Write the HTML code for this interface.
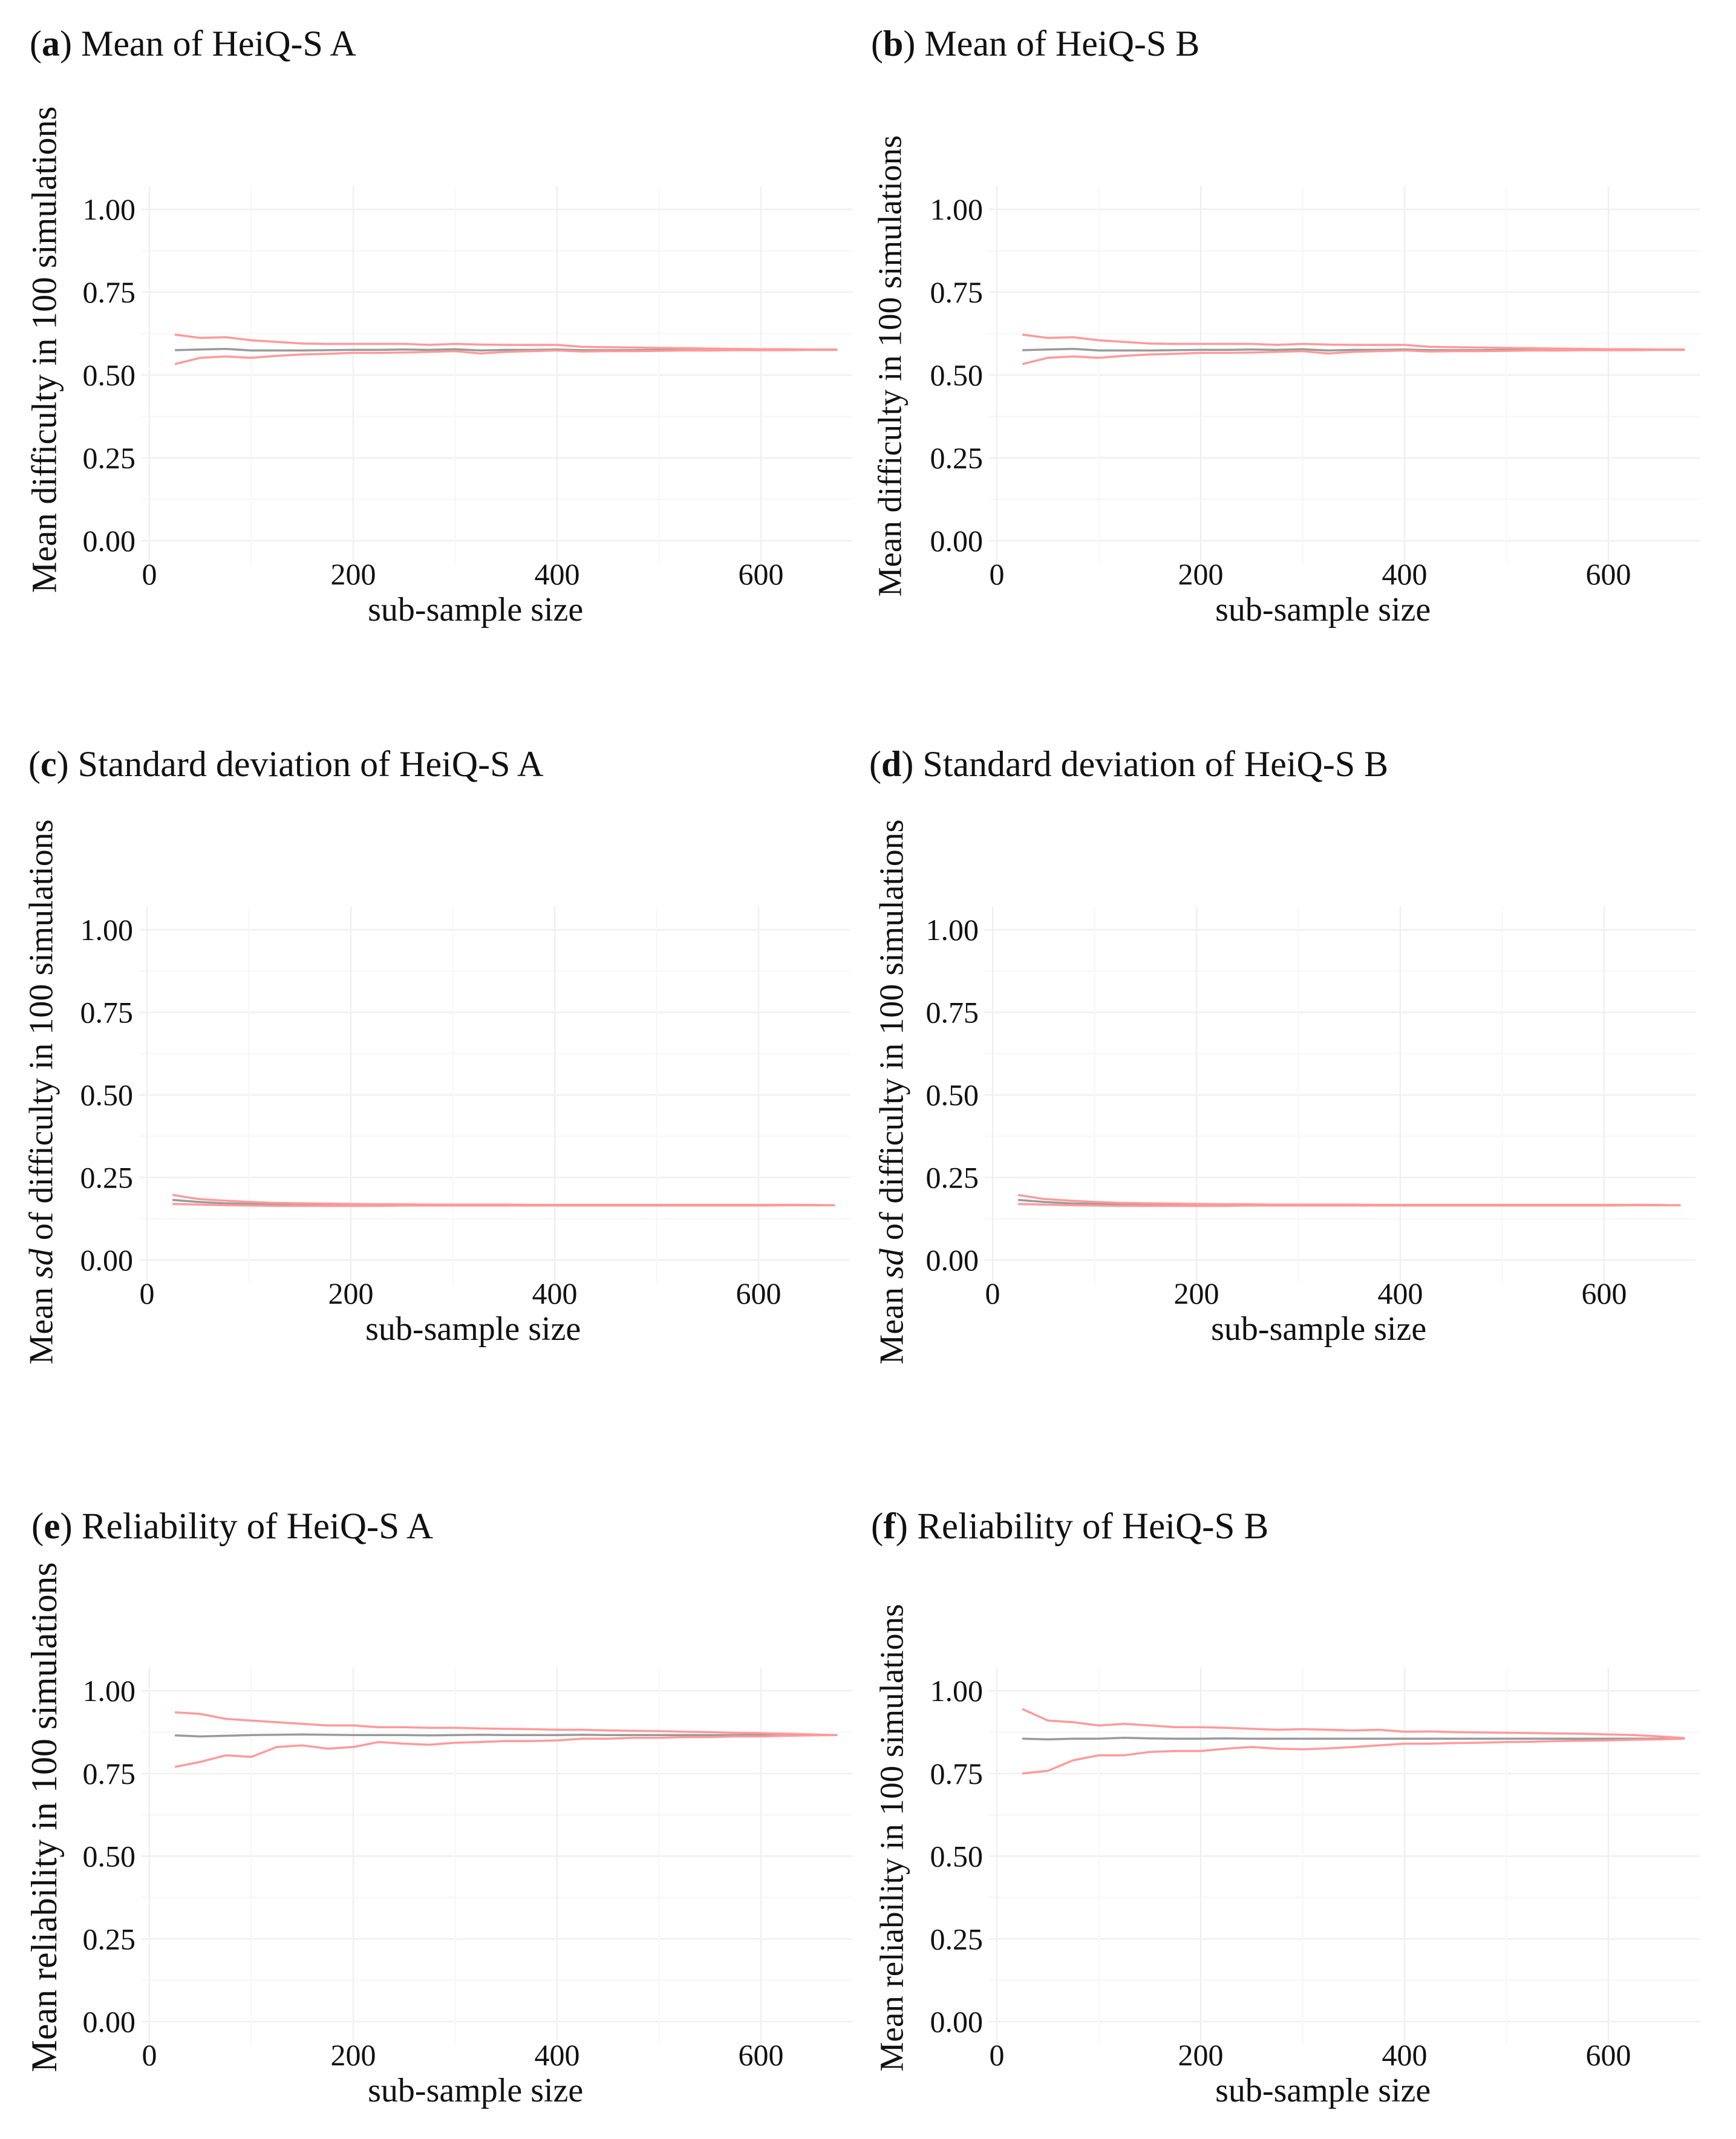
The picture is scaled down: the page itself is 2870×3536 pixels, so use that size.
<!DOCTYPE html>
<html><head><meta charset="utf-8"><style>
html,body{margin:0;padding:0;background:#fff}
svg{display:block}
text{font-family:"Liberation Serif",serif;fill:#111}
</style></head><body>
<svg id="fig" width="2870" height="3536" viewBox="0 0 2870 3536" xmlns="http://www.w3.org/2000/svg"></svg>
<script>
const sampleSizes=[25,50,75,100,125,150,175,200,225,250,275,300,325,350,375,400,425,450,475,500,525,550,575,600,625,650,675];
const yTickLabels=["0.00","0.25","0.50","0.75","1.00"];
const yTickValues=[0,0.25,0.5,0.75,1];
const xTickValues=[0,200,400,600];
const meanA_gray=[0.575,0.577,0.579,0.574,0.574,0.574,0.575,0.576,0.576,0.577,0.576,0.578,0.574,0.576,0.576,0.577,0.575,0.575,0.575,0.576,0.576,0.576,0.576,0.576,0.576,0.576,0.576];
const meanA_up=[0.622,0.612,0.614,0.605,0.6,0.595,0.594,0.594,0.594,0.594,0.591,0.594,0.592,0.591,0.591,0.591,0.585,0.584,0.583,0.582,0.581,0.58,0.579,0.578,0.578,0.577,0.577];
const meanA_lo=[0.533,0.552,0.556,0.552,0.558,0.562,0.564,0.567,0.567,0.568,0.57,0.572,0.565,0.57,0.572,0.574,0.571,0.572,0.572,0.573,0.574,0.574,0.575,0.575,0.575,0.576,0.576];
const sdA_gray=[0.182,0.176,0.172,0.17,0.168,0.168,0.167,0.167,0.166,0.166,0.166,0.166,0.166,0.166,0.166,0.166,0.166,0.166,0.166,0.166,0.166,0.166,0.166,0.166,0.166,0.166,0.166];
const sdA_up=[0.197,0.185,0.18,0.176,0.173,0.172,0.171,0.17,0.169,0.169,0.168,0.168,0.168,0.168,0.167,0.167,0.167,0.167,0.167,0.167,0.167,0.167,0.167,0.167,0.167,0.167,0.166];
const sdA_lo=[0.17,0.168,0.166,0.165,0.164,0.164,0.164,0.164,0.164,0.165,0.165,0.165,0.165,0.165,0.165,0.165,0.165,0.165,0.165,0.165,0.165,0.165,0.165,0.165,0.166,0.166,0.166];
const relA_gray=[0.865,0.862,0.864,0.866,0.867,0.868,0.867,0.866,0.866,0.866,0.865,0.866,0.867,0.866,0.866,0.866,0.867,0.866,0.866,0.866,0.866,0.866,0.866,0.866,0.866,0.866,0.866];
const relA_up=[0.935,0.93,0.915,0.91,0.905,0.9,0.895,0.895,0.89,0.89,0.888,0.888,0.886,0.885,0.884,0.882,0.882,0.88,0.879,0.878,0.876,0.875,0.873,0.872,0.87,0.868,0.866];
const relA_lo=[0.77,0.785,0.805,0.80,0.83,0.835,0.825,0.83,0.845,0.84,0.837,0.843,0.845,0.848,0.848,0.85,0.855,0.855,0.858,0.858,0.86,0.86,0.862,0.862,0.864,0.865,0.866];
const relB_gray=[0.855,0.853,0.855,0.855,0.858,0.856,0.855,0.855,0.856,0.855,0.855,0.855,0.855,0.855,0.855,0.855,0.855,0.855,0.855,0.855,0.855,0.855,0.855,0.855,0.855,0.855,0.855];
const relB_up=[0.945,0.91,0.905,0.895,0.9,0.895,0.89,0.89,0.888,0.885,0.882,0.884,0.882,0.88,0.882,0.876,0.877,0.875,0.874,0.873,0.872,0.871,0.87,0.868,0.866,0.862,0.857];
const relB_lo=[0.75,0.758,0.79,0.805,0.805,0.815,0.818,0.818,0.825,0.83,0.825,0.823,0.826,0.83,0.835,0.84,0.84,0.842,0.843,0.845,0.846,0.848,0.849,0.85,0.852,0.853,0.855];

const panels=[
 {id:"a",tb:"a",tt:" Mean of HeiQ-S A",tx:49,ty:92,ts:60,x0:247,y1:346,y0:894,ytitle:["Mean difficulty in 100 simulations"],ys:58,ax:72,ay:578,g:meanA_gray,u:meanA_up,l:meanA_lo},
 {id:"b",tb:"b",tt:" Mean of HeiQ-S B",tx:1440,ty:92,ts:60,x0:1648,y1:346,y0:894,ytitle:["Mean difficulty in 100 simulations"],ys:55,ax:1470,ay:605,g:meanA_gray,u:meanA_up,l:meanA_lo},
 {id:"c",tb:"c",tt:" Standard deviation of HeiQ-S A",tx:47,ty:1283,ts:60,x0:243,y1:1537,y0:2083,ytitle:["sd"],ys:56,ax:67,ay:1805,g:sdA_gray,u:sdA_up,l:sdA_lo},
 {id:"d",tb:"d",tt:" Standard deviation of HeiQ-S B",tx:1437,ty:1283,ts:60,x0:1641,y1:1537,y0:2083,ytitle:["sd"],ys:56,ax:1473,ay:1805,g:sdA_gray,u:sdA_up,l:sdA_lo},
 {id:"e",tb:"e",tt:" Reliability of HeiQ-S A",tx:52,ty:2543,ts:61,x0:247,y1:2795,y0:3342,ytitle:["Mean reliability in 100 simulations"],ys:60,ax:72,ay:3004,g:relA_gray,u:relA_up,l:relA_lo},
 {id:"f",tb:"f",tt:" Reliability of HeiQ-S B",tx:1440,ty:2543,ts:61,x0:1648,y1:2795,y0:3342,ytitle:["Mean reliability in 100 simulations"],ys:55,ax:1473,ay:3038,g:relB_gray,u:relB_up,l:relB_lo}
];
const NS="http://www.w3.org/2000/svg";
const svg=document.getElementById('fig');
function mk(tag,attrs,parent){const e=document.createElementNS(NS,tag);for(const k in attrs)e.setAttribute(k,attrs[k]);parent.appendChild(e);return e;}
panels.forEach(p=>{
 const g=mk('g',{},svg);
 
 
 const sx=v=>p.x0+v*1.685;
 const sy=v=>p.y0-v*(p.y0-p.y1);
 const xl=sx(-8),xr=sx(690),yt=sy(1.07),yb=sy(-0.07);
 for(let v=0;v<=1.0001;v+=0.125){const ln=mk('line',{x1:xl,x2:xr,y1:sy(v),y2:sy(v),stroke:(Math.round(v*8)%2?'#f8f8f8':'#f0f0f0'),'stroke-width':2.5},g);
  
  }
 for(let v=0;v<=600;v+=100){const ln=mk('line',{x1:sx(v),x2:sx(v),y1:yt,y2:yb,stroke:(v%200?'#f8f8f8':'#f0f0f0'),'stroke-width':2.5},g);
  
  }
 yTickValues.forEach((v,i)=>{const t=mk('text',{x:p.x0-23,y:sy(v)+17,'text-anchor':'end','font-size':50},g);t.textContent=yTickLabels[i];
  
  });
 xTickValues.forEach(v=>{const t=mk('text',{x:sx(v),y:p.y0+72,'text-anchor':'middle','font-size':50},g);t.textContent=String(v);
  
  });
 const xt=mk('text',{x:sx(320),y:p.y0+132,'text-anchor':'middle','font-size':56},g);xt.textContent='sub-sample size';
 
 
 const yt2=mk('text',{x:0,y:0,'text-anchor':'middle','font-size':p.ys,transform:`translate(${p.ax+p.ys*0.35},${p.ay}) rotate(-90)`},g);
 if(p.ytitle[0]==='sd'){yt2.innerHTML='Mean <tspan font-style="italic">sd</tspan> of difficulty  in 100 simulations';}
 else yt2.textContent=p.ytitle[0];
 
 
 const tt=mk('text',{x:p.tx,y:p.ty,'font-size':p.ts},g);
 tt.innerHTML='(<tspan font-weight="bold">'+p.tb+'</tspan>)'+p.tt;
 
 
 const line=(arr,col,name)=>{const pts=arr.map((v,i)=>sx(sampleSizes[i]).toFixed(1)+','+sy(v).toFixed(1)).join(' ');
  const pl=mk('polyline',{points:pts,fill:'none',stroke:col,'stroke-width':3.5,'stroke-linejoin':'round'},g);
  
  };
 line(p.g,'#9a9a9a','mean-line');
 line(p.u,'#ff9a9a','upper-bound-line');
 line(p.l,'#ff9a9a','lower-bound-line');
});
</script>
</body></html>
